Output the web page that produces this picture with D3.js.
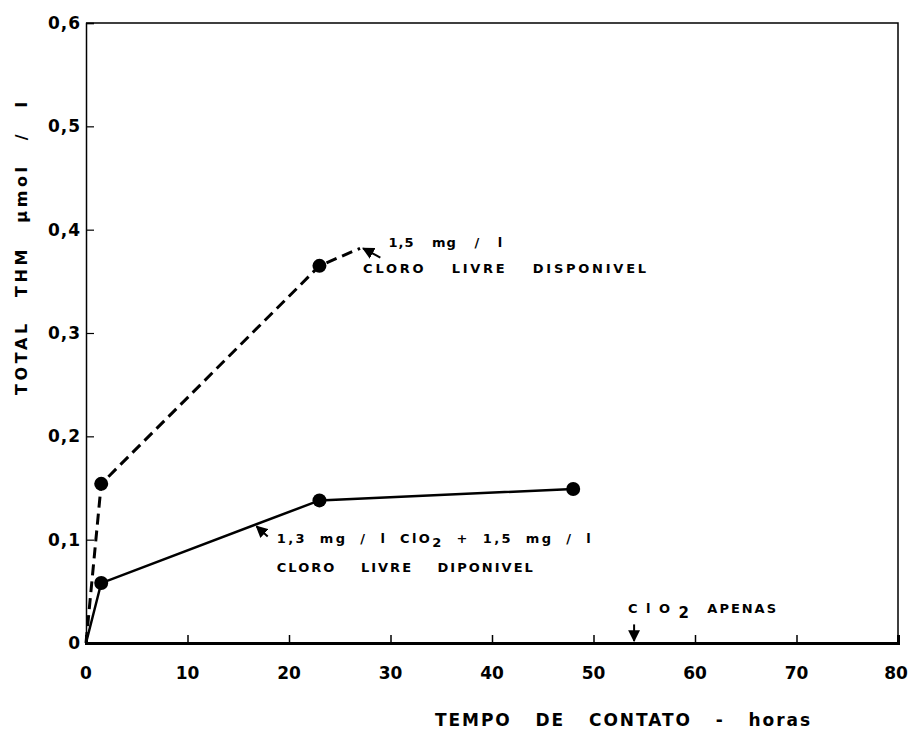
<!DOCTYPE html>
<html>
<head>
<meta charset="utf-8">
<script src="https://cdn.jsdelivr.net/npm/d3@7"></script>
<style>
  body { margin: 0; background: #fff; }
  svg { display: block; }
  text { font-family: "DejaVu Sans", sans-serif; font-weight: bold; fill: #000; }
</style>
</head>
<body>
<div id="chart"></div>
<script>
// horas de contato vs THM total (umol/l)
const horasCloro = [0, 1.5, 23, 27]
const thmCloro = [0, 0.154, 0.365, 0.382]
const marcaCloro = [false, true, true, false]

const horasMisto = [0, 1.5, 23, 48]
const thmMisto = [0, 0.058, 0.138, 0.149]

const xTicks = [0, 10, 20, 30, 40, 50, 60, 70, 80]
const yTicks = [0, 0.1, 0.2, 0.3, 0.4, 0.5, 0.6]
const yTickLabels = ['0', '0,1', '0,2', '0,3', '0,4', '0,5', '0,6']

const width = 909
const height = 729
const margin = { top: 23, right: 11, bottom: 86, left: 86 }

const svg = d3.select('#chart')
  .append('svg')
  .attr('width', width)
  .attr('height', height)

const x = d3.scaleLinear()
  .domain([0, 80])
  .range([margin.left, width - margin.right])

const y = d3.scaleLinear()
  .domain([0, 0.6])
  .range([height - margin.bottom, margin.top])

// frame: top and right border
svg.append('path')
  .attr('d', `M${x(0)},${y(0.6)} H${x(80)} V${y(0)}`)
  .attr('fill', 'none')
  .attr('stroke', '#000')
  .attr('stroke-width', 1.5)

// y axis
const yAxis = d3.axisRight(y)
  .tickValues(yTicks.slice(1))
  .tickSize(8)
  .tickFormat('')
svg.append('g')
  .attr('class', 'axis y-axis')
  .attr('transform', `translate(${x(0)},0)`)
  .call(yAxis)
  .call(g => g.select('.domain').attr('stroke-width', 1.5))
  .call(g => g.selectAll('.tick line').attr('stroke-width', 1.2))

svg.selectAll('.ylab')
  .data(yTicks)
  .enter()
  .append('text')
  .attr('class', 'ylab')
  .attr('x', x(0) - 5)
  .attr('y', d => y(d) + 6)
  .attr('text-anchor', 'end')
  .attr('font-size', 17)
  .attr('letter-spacing', 1)
  .text((d, i) => yTickLabels[i])

// x axis (thick: ClO2 line runs along it)
const xAxis = d3.axisTop(x)
  .tickValues(xTicks.slice(1, -1))
  .tickSize(8)
  .tickFormat('')
svg.append('g')
  .attr('class', 'axis x-axis')
  .attr('transform', `translate(0,${y(0)})`)
  .call(xAxis)
  .call(g => g.select('.domain').attr('stroke-width', 3))
  .call(g => g.selectAll('.tick line').attr('stroke-width', 1.5))

svg.selectAll('.xlab')
  .data(xTicks)
  .enter()
  .append('text')
  .attr('class', 'xlab')
  .attr('x', d => Math.min(x(d), width - 13))
  .attr('y', y(0) + 36)
  .attr('text-anchor', 'middle')
  .attr('font-size', 17)
  .text(d => d)

// axis titles
svg.append('text')
  .attr('x', 435)
  .attr('y', 726)
  .attr('font-size', 17)
  .attr('letter-spacing', 2)
  .attr('word-spacing', 16)
  .attr('textLength', 377)
  .attr('lengthAdjust', 'spacing')
  .text('TEMPO DE CONTATO - horas')

svg.append('text')
  .attr('transform', `translate(27,395) rotate(-90)`)
  .attr('font-size', 16)
  .attr('letter-spacing', 2)
  .attr('word-spacing', 14)
  .attr('textLength', 295)
  .attr('lengthAdjust', 'spacing')
  .text('TOTAL THM µmol / l')

// series
const line = d3.line()
  .x(d => x(d[0]))
  .y(d => y(d[1]))

const cloro = horasCloro.map((h, i) => [h, thmCloro[i]])
const misto = horasMisto.map((h, i) => [h, thmMisto[i]])

svg.append('path')
  .datum(cloro)
  .attr('d', line)
  .attr('fill', 'none')
  .attr('stroke', '#000')
  .attr('stroke-width', 3)
  .attr('stroke-dasharray', '11,6')

svg.append('path')
  .datum(misto)
  .attr('d', line)
  .attr('fill', 'none')
  .attr('stroke', '#000')
  .attr('stroke-width', 2.5)

svg.selectAll('.pt-cloro')
  .data(cloro.filter((d, i) => marcaCloro[i]))
  .enter()
  .append('circle')
  .attr('class', 'pt-cloro')
  .attr('cx', d => x(d[0]))
  .attr('cy', d => y(d[1]))
  .attr('r', 7)

svg.selectAll('.pt-misto')
  .data(misto.slice(1))
  .enter()
  .append('circle')
  .attr('class', 'pt-misto')
  .attr('cx', d => x(d[0]))
  .attr('cy', d => y(d[1]))
  .attr('r', 7)

// annotations
svg.append('defs').append('marker')
  .attr('id', 'seta')
  .attr('viewBox', '0 0 10 10')
  .attr('refX', 9)
  .attr('refY', 5)
  .attr('markerWidth', 6)
  .attr('markerHeight', 6)
  .attr('orient', 'auto')
  .append('path')
  .attr('d', 'M0,0 L10,5 L0,10 z')

const setas = [
  [[29.0, 0.373], [27.3, 0.382]],
  [[17.9, 0.103], [16.8, 0.113]],
  [[54, 0.018], [54, 0.002]]
]
svg.selectAll('.seta')
  .data(setas)
  .enter()
  .append('line')
  .attr('class', 'seta')
  .attr('x1', d => x(d[0][0]))
  .attr('y1', d => y(d[0][1]))
  .attr('x2', d => x(d[1][0]))
  .attr('y2', d => y(d[1][1]))
  .attr('stroke', '#000')
  .attr('stroke-width', 2)
  .attr('marker-end', 'url(#seta)')

const rotulos = [
  { h: 27.3, v: 0.358, w: 285, t: 'CLORO LIVRE DISPONIVEL' },
  { h: 18.8, v: 0.069, w: 258, t: 'CLORO LIVRE DIPONIVEL' }
]

svg.selectAll('.rot')
  .data(rotulos)
  .enter()
  .append('text')
  .attr('class', 'rot')
  .attr('x', d => x(d.h))
  .attr('y', d => y(d.v))
  .attr('font-size', 13)
  .attr('letter-spacing', 2)
  .attr('word-spacing', 18)
  .attr('textLength', d => d.w)
  .attr('lengthAdjust', 'spacing')
  .text(d => d.t)

svg.append('text')
  .attr('x', x(29.8))
  .attr('y', y(0.383))
  .attr('font-size', 13)
  .attr('letter-spacing', 1)
  .attr('word-spacing', 12)
  .text('1,5 mg / l')

// label with ClO2 subscript
const lab = svg.append('text')
  .attr('x', x(18.8))
  .attr('y', y(0.097))
  .attr('font-size', 13)
  .attr('letter-spacing', 2)
  .attr('word-spacing', 6)
lab.append('tspan').text('1,3 mg / l  ClO')
lab.append('tspan').attr('dy', 4).text('2')
lab.append('tspan').attr('dy', -4).text(' +  1,5 mg / l')
lab.attr('textLength', 316).attr('lengthAdjust', 'spacing')

const lab2 = svg.append('text')
  .attr('x', x(53.4))
  .attr('y', y(0.029))
  .attr('font-size', 13)
  .attr('letter-spacing', 2)
lab2.append('tspan').text('C l O ')
lab2.append('tspan').attr('dy', 5).attr('font-size', 15).text('2')
lab2.append('tspan').attr('dy', -5).attr('word-spacing', 10).text('  APENAS')
lab2.attr('textLength', 150).attr('lengthAdjust', 'spacing')
</script>
</body>
</html>
